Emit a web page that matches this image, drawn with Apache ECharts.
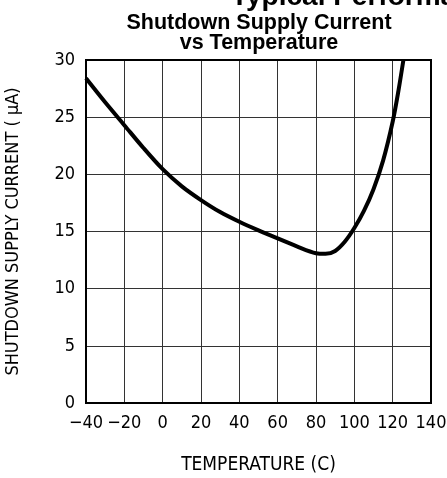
<!DOCTYPE html>
<html><head><meta charset="utf-8">
<script src="https://cdn.jsdelivr.net/npm/echarts@6/dist/echarts.min.js"></script>
<style>html,body{margin:0;padding:0;background:#fff}#c{width:447px;height:478px}</style>
</head><body><div id="c"></div>
<script>
const temps = [-40, -30, -20, -10, 0, 10, 20, 30, 40, 50, 60, 70, 80, 85, 90, 95, 100, 105, 110, 115, 120, 123, 125.6];
const current = [28.4, 26.3, 24.3, 22.3, 20.45, 18.95, 17.75, 16.7, 15.85, 15.1, 14.4, 13.7, 13.1, 13.05, 13.3, 14.1, 15.3, 16.8, 18.7, 21.2, 24.6, 27.3, 30.0];
const xTicks = [-40, -20, 0, 20, 40, 60, 80, 100, 120, 140];
const yTicks = [0, 5, 10, 15, 20, 25, 30];

const chart = echarts.init(document.getElementById('c'), null, {renderer: 'canvas'});
const tickFont = 'DejaVu Sans Condensed';
chart.setOption({
  animation: false,
  title: [
    {text: 'Typical Performance Characteristics', left: 226, top: -23,
     textStyle: {fontFamily: 'Liberation Sans', fontWeight: 'bold', fontSize: 28, lineHeight: 30, color: '#000'}},
    {text: 'Shutdown Supply Current\nvs Temperature', left: 254, top: 8, textAlign: 'center',
     textStyle: {fontFamily: 'Liberation Sans', fontWeight: 'bold', fontSize: 21.5, lineHeight: 20, color: '#000'}}
  ],
  grid: {left: 86, right: 16, top: 60, bottom: 75, containLabel: false, outerBoundsMode: 'none'},
  xAxis: {
    type: 'value', min: -40, max: 140, interval: 20,
    name: 'TEMPERATURE (C)', nameLocation: 'middle', nameGap: 53,
    nameTextStyle: {fontFamily: tickFont, fontSize: 19, color: '#000'},
    axisLine: {show: true, onZero: false, lineStyle: {color: '#000', width: 2}},
    axisTick: {show: false},
    axisLabel: {fontFamily: tickFont, fontSize: 18, color: '#000', margin: 11,
      formatter: v => xTicks.includes(v) ? String(v).replace('-', '\u2212') : ''},
    splitLine: {show: true, lineStyle: {color: '#333', width: 1}}
  },
  yAxis: {
    type: 'value', min: 0, max: 30, interval: 5,
    name: 'SHUTDOWN SUPPLY CURRENT ( \u03bcA)', nameLocation: 'middle', nameGap: 64,
    nameTextStyle: {fontFamily: tickFont, fontSize: 18, color: '#000'},
    axisLine: {show: true, onZero: false, lineStyle: {color: '#000', width: 2}},
    axisTick: {show: false},
    axisLabel: {fontFamily: tickFont, fontSize: 18, color: '#000', margin: 11,
      formatter: v => yTicks.includes(v) ? String(v) : ''},
    splitLine: {show: true, lineStyle: {color: '#333', width: 1}}
  },
  series: [
    {type: 'line', data: temps.map((t, i) => [t, current[i]]), smooth: 0.3, showSymbol: false,
     lineStyle: {color: '#000', width: 4}, clip: true},
    {type: 'line', data: [], markArea: {silent: true, itemStyle: {color: 'rgba(0,0,0,0)', borderColor: '#000', borderWidth: 2},
      data: [[{coord: [-40, 0]}, {coord: [140, 30]}]]}}
  ]
});
</script></body></html>
